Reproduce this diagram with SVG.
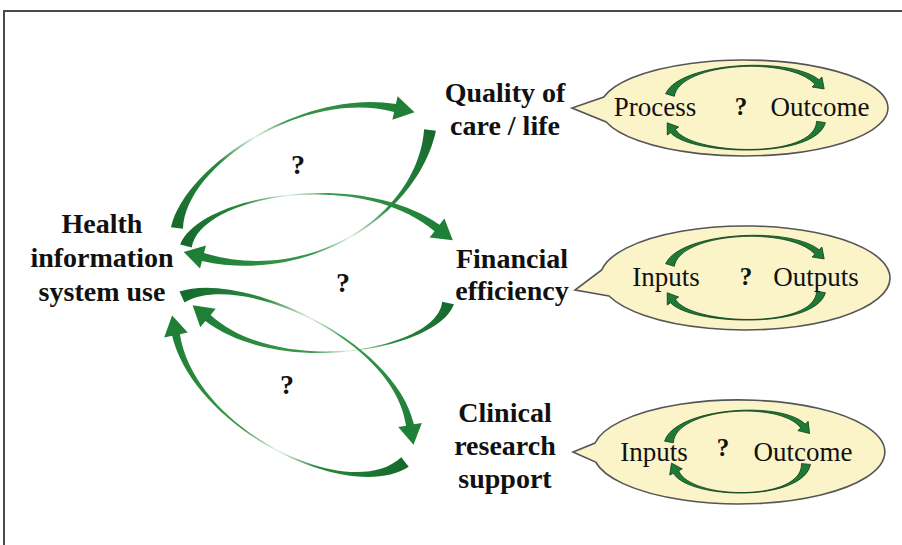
<svg xmlns="http://www.w3.org/2000/svg" width="902" height="545" viewBox="0 0 902 545">
<style>
.lbl{font-family:"Liberation Serif","Times New Roman",serif;font-weight:bold;font-size:28px;fill:#111;text-anchor:middle}
.q{font-family:"Liberation Serif","Times New Roman",serif;font-weight:bold;font-size:28px;fill:#111;text-anchor:middle}
.bt{font-family:"Liberation Serif","Times New Roman",serif;font-size:27px;fill:#111;text-anchor:middle}
.bub{fill:#faf4c8;stroke:#555;stroke-width:1.6}
.sa{fill:#1f7a36;stroke:#0d3d18;stroke-width:0.8}
</style>
<defs>
<linearGradient id="gA" gradientUnits="userSpaceOnUse" x1="177" y1="228" x2="395" y2="108"><stop offset="0" stop-color="#176a2d"/><stop offset="0.28" stop-color="#2a8a3f"/><stop offset="0.45" stop-color="#e4f2e6"/><stop offset="0.6" stop-color="#3a9a4c"/><stop offset="1" stop-color="#1f7f36"/></linearGradient>
<linearGradient id="gB" gradientUnits="userSpaceOnUse" x1="430" y1="130" x2="203" y2="257"><stop offset="0" stop-color="#176a2d"/><stop offset="0.28" stop-color="#2a8a3f"/><stop offset="0.47" stop-color="#e4f2e6"/><stop offset="0.62" stop-color="#3a9a4c"/><stop offset="1" stop-color="#1f7f36"/></linearGradient>
<linearGradient id="gC" gradientUnits="userSpaceOnUse" x1="186" y1="246" x2="437" y2="228"><stop offset="0" stop-color="#176a2d"/><stop offset="0.25" stop-color="#2a8a3f"/><stop offset="0.42" stop-color="#e4f2e6"/><stop offset="0.58" stop-color="#3a9a4c"/><stop offset="1" stop-color="#1f7f36"/></linearGradient>
<linearGradient id="gD" gradientUnits="userSpaceOnUse" x1="448" y1="303" x2="208" y2="318"><stop offset="0" stop-color="#176a2d"/><stop offset="0.25" stop-color="#2a8a3f"/><stop offset="0.42" stop-color="#e4f2e6"/><stop offset="0.58" stop-color="#3a9a4c"/><stop offset="1" stop-color="#1f7f36"/></linearGradient>
<linearGradient id="gE" gradientUnits="userSpaceOnUse" x1="182" y1="297" x2="410" y2="425"><stop offset="0" stop-color="#176a2d"/><stop offset="0.28" stop-color="#2a8a3f"/><stop offset="0.47" stop-color="#e4f2e6"/><stop offset="0.62" stop-color="#3a9a4c"/><stop offset="1" stop-color="#1f7f36"/></linearGradient>
<linearGradient id="gF" gradientUnits="userSpaceOnUse" x1="405" y1="462" x2="176" y2="335"><stop offset="0" stop-color="#176a2d"/><stop offset="0.28" stop-color="#2a8a3f"/><stop offset="0.45" stop-color="#e4f2e6"/><stop offset="0.6" stop-color="#3a9a4c"/><stop offset="1" stop-color="#1f7f36"/></linearGradient>
</defs>
<rect width="902" height="545" fill="#fff"/>
<path d="M3,11 H902 M4,11 V545" fill="none" stroke="#4a4a4a" stroke-width="2"/>

<g id="connectors">
<path id="his-quality" fill="url(#gA)" d="M171,227.2 C185,165 305,88 395.9,104.1 L397.6,96.3 L414.5,112.3 L392.4,119.7 L394.1,111.9 C305,88 185,165 183,228.8 Z"/>
<path id="quality-his" fill="url(#gB)" d="M435.9,130.8 C418,215 310,285 202,260.9 L200,268.6 L183.7,251.9 L206,245.4 L204,253.1 C310,285 418,215 424.1,129.2 Z"/>
<path id="his-financial" fill="url(#gC)" d="M180.2,244.4 C200,195 360,168 439.5,224.8 L444.4,218.5 L452.8,240.3 L429.6,237.5 L434.5,231.2 C360,168 200,195 191.8,247.6 Z"/>
<path id="financial-his" fill="url(#gD)" d="M453.9,304.2 C438,350 280,378 205.4,321.1 L200.3,327.2 L192.6,305.2 L215.7,308.8 L210.6,314.9 C280,378 438,350 442.1,301.8 Z"/>
<path id="his-clinical" fill="url(#gE)" d="M179.5,291.6 C240,270 395,340 413.9,424.3 L421.8,422.9 L413.5,444.7 L398.2,427.1 L406.1,425.7 C395,340 240,270 184.5,302.4 Z"/>
<path id="clinical-his" fill="url(#gF)" d="M408.7,466.7 C350,505 195,430 172.1,335.8 L164.2,337.4 L172.1,315.4 L187.8,332.6 L179.9,334.2 C195,430 350,505 401.3,457.3 Z"/>
<text class="q" x="298" y="174">?</text>
<text class="q" x="343" y="292">?</text>
<text class="q" x="287" y="394">?</text>
</g>

<g id="his">
<text class="lbl" x="102" y="233">Health</text>
<text class="lbl" x="102" y="267">information</text>
<text class="lbl" x="102" y="301">system use</text>
</g>

<g id="quality">
<text class="lbl" x="505" y="102">Quality of</text>
<text class="lbl" x="505" y="135">care / life</text>
</g>

<g id="financial">
<text class="lbl" x="512" y="268">Financial</text>
<text class="lbl" x="512" y="300">efficiency</text>
</g>

<g id="clinical">
<text class="lbl" x="505" y="422">Clinical</text>
<text class="lbl" x="505" y="455">research</text>
<text class="lbl" x="505" y="488">support</text>
</g>

<g id="bubble-quality">
<path class="bub" d="M603.8,97 A144 48 0 1 1 606.2,122 L572,108 Z"/>
<path class="sa" d="M665.7,93.7 C680,62 790,56 819.1,79.8 L821.9,77 L824.2,88.9 L812.1,87 L814.9,84.2 C790,56 680,62 674.3,96.3 Z"/>
<path class="sa" d="M825.4,122.7 C815,160 690,155 670.6,132.7 L667.3,135 L667.2,122.8 L678.7,127 L675.4,129.3 C690,155 815,160 816.6,121.3 Z"/>
<text class="bt" x="655" y="116">Process</text>
<text class="q" x="741" y="115" style="font-size:25px">?</text>
<text class="bt" x="820" y="116">Outcome</text>
</g>

<g id="bubble-financial">
<path class="bub" d="M601.7,270 A145 52 0 1 1 609,296 L575,290 Z"/>
<g transform="translate(0,170)">
<path class="sa" d="M665.7,93.7 C680,62 790,56 819.1,79.8 L821.9,77 L824.2,88.9 L812.1,87 L814.9,84.2 C790,56 680,62 674.3,96.3 Z"/>
<path class="sa" d="M825.4,122.7 C815,160 690,155 670.6,132.7 L667.3,135 L667.2,122.8 L678.7,127 L675.4,129.3 C690,155 815,160 816.6,121.3 Z"/>
</g>
<text class="bt" x="666" y="286">Inputs</text>
<text class="q" x="746" y="285" style="font-size:25px">?</text>
<text class="bt" x="816" y="286">Outputs</text>
</g>

<g id="bubble-clinical">
<path class="bub" d="M595,443 A146 52 0 1 1 595.6,462 L573,452 Z"/>
<path class="sa" d="M664.6,441.2 C675,408 780,400 805.2,424 L808.2,421.4 L809.6,433.5 L797.8,430.6 L800.8,428 C780,400 675,408 673.4,442.8 Z"/>
<path class="sa" d="M810.5,464.4 C803,502 690,500 673.3,473.3 L669.7,475.1 L671.5,463.1 L682.3,468.9 L678.7,470.7 C690,500 803,502 801.5,463.6 Z"/>
<text class="bt" x="654" y="461">Inputs</text>
<text class="q" x="723" y="456" style="font-size:25px">?</text>
<text class="bt" x="803" y="461">Outcome</text>
</g>
</svg>
